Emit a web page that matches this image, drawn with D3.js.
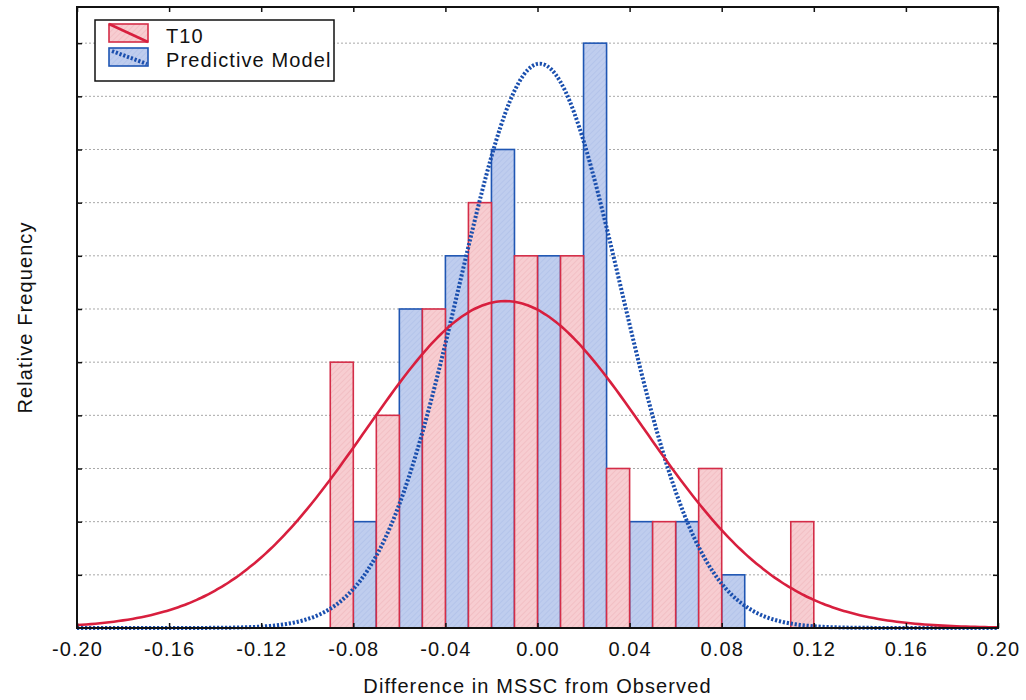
<!DOCTYPE html>
<html>
<head>
<meta charset="utf-8">
<script src="https://cdn.jsdelivr.net/npm/d3@7"></script>
<style>
  body { margin: 0; background: #fff; }
  text { font-family: "Liberation Sans", Arial, Helvetica, sans-serif; fill: #111; letter-spacing: 1.1px; }
</style>
</head>
<body>
<svg id="chart" width="1026" height="700"></svg>
<script>
// bin starts (left edge) and counts for each histogram, bins are 0.01 wide
var t10Starts = [-0.09, -0.07, -0.05, -0.03, -0.01, 0.01, 0.03, 0.05, 0.07, 0.09, 0.11];
var t10Counts = [5, 4, 6, 8, 7, 7, 3, 2, 3, 0, 2];
var modelStarts = [-0.08, -0.06, -0.04, -0.02, 0.00, 0.02, 0.04, 0.06, 0.08];
var modelCounts = [2, 6, 7, 9, 7, 11, 2, 2, 1];

// fitted normal curves: mean, sd, peak height (in count units)
var t10Fit = [-0.014, 0.0605, 6.15];
var modelFit = [0.001, 0.035, 10.62];

var xTicks = [-0.20, -0.16, -0.12, -0.08, -0.04, 0.00, 0.04, 0.08, 0.12, 0.16, 0.20];
var yGrid = [1, 2, 3, 4, 5, 6, 7, 8, 9, 10, 11];

var binWidth = 0.01;

var margin = {top: 7, right: 28, bottom: 72, left: 77},
    width = 1026 - margin.left - margin.right,
    height = 700 - margin.top - margin.bottom;

var svg = d3.select('#chart');

var defs = svg.append('defs');
function hatch(id, base, line) {
    var p = defs.append('pattern')
        .attr('id', id)
        .attr('patternUnits', 'userSpaceOnUse')
        .attr('width', 4).attr('height', 4)
        .attr('patternTransform', 'rotate(45)');
    p.append('rect').attr('width', 4).attr('height', 4).attr('fill', base);
    p.append('line').attr('x1', 0).attr('y1', 0).attr('x2', 0).attr('y2', 4)
        .attr('stroke', line).attr('stroke-width', 1.2);
}
hatch('pinkHatch', '#f7cdd1', '#f0b6bc');
hatch('blueHatch', '#bfcdee', '#adbfe8');

var g = svg.append('g')
    .attr('transform', 'translate(' + margin.left + ',' + margin.top + ')');

var xScale = d3.scaleLinear().domain([-0.2, 0.2]).range([0, width]);
var yScale = d3.scaleLinear().domain([0, 11.68]).range([height, 0]);

// dotted gridlines
g.append('g').selectAll('line')
    .data(yGrid)
    .enter().append('line')
    .attr('x1', 0)
    .attr('x2', width)
    .attr('y1', function(d) { return yScale(d); })
    .attr('y2', function(d) { return yScale(d); })
    .attr('stroke', '#a8a8a8')
    .attr('stroke-width', 1)
    .attr('stroke-dasharray', '2,2');

// bars
var t10Data = t10Starts.map(function(s, i) { return {x: s, n: t10Counts[i]}; });
var modelData = modelStarts.map(function(s, i) { return {x: s, n: modelCounts[i]}; });

function drawBars(data, fill, stroke) {
    g.append('g').selectAll('rect')
        .data(data)
        .enter().append('rect')
        .attr('x', function(d) { return xScale(d.x); })
        .attr('width', function(d) { return xScale(d.x + binWidth) - xScale(d.x); })
        .attr('y', function(d) { return yScale(d.n); })
        .attr('height', function(d) { return yScale(0) - yScale(d.n); })
        .attr('fill', fill)
        .attr('stroke', stroke)
        .attr('stroke-width', 1.6);
}
drawBars(modelData, 'url(#blueHatch)', '#1f56b3');
drawBars(t10Data, 'url(#pinkHatch)', '#d42d48');

// normal curves
var curveX = d3.range(-0.2, 0.2001, 0.002);
function normal(fit) {
    return function(v) {
        var z = (v - fit[0]) / fit[1];
        return fit[2] * Math.exp(-0.5 * z * z);
    };
}
var line = d3.line()
    .x(function(d) { return xScale(d[0]); })
    .y(function(d) { return yScale(d[1]); })
    .curve(d3.curveBasis);

var modelPdf = normal(modelFit);
g.append('path')
    .datum(curveX.map(function(v) { return [v, modelPdf(v)]; }))
    .attr('d', line)
    .attr('fill', 'none')
    .attr('stroke', '#1a4fae')
    .attr('stroke-width', 4)
    .attr('stroke-dasharray', '2.2,1.8');

var t10Pdf = normal(t10Fit);
g.append('path')
    .datum(curveX.map(function(v) { return [v, t10Pdf(v)]; }))
    .attr('d', line)
    .attr('fill', 'none')
    .attr('stroke', '#d81f3e')
    .attr('stroke-width', 2.6);

// frame
g.append('rect')
    .attr('width', width)
    .attr('height', height)
    .attr('fill', 'none')
    .attr('stroke', '#111')
    .attr('stroke-width', 2);

// x axis with inward ticks
var fmt = d3.format('.2f');
var xAxis = d3.axisBottom(xScale)
    .tickValues(xTicks)
    .tickSize(-5)
    .tickPadding(14)
    .tickFormat(function(d) { return fmt(d).replace('\u2212', '-'); });
var xAxisGroup = g.append('g')
    .attr('transform', 'translate(0,' + height + ')')
    .call(xAxis);
xAxisGroup.select('.domain').remove();
xAxisGroup.selectAll('line').attr('stroke', '#111').attr('stroke-width', 1.5);
xAxisGroup.selectAll('text')
    .style('font-size', '20px')
    .style('font-family', '"Liberation Sans", Arial, sans-serif')
    .attr('fill', '#111');

var xTop = d3.axisTop(xScale).tickValues(xTicks).tickSize(-5).tickFormat('');
var xTopGroup = g.append('g').call(xTop);
xTopGroup.select('.domain').remove();
xTopGroup.selectAll('line').attr('stroke', '#111').attr('stroke-width', 1.5);

// y ticks, inside, no labels
var yLeft = d3.axisLeft(yScale).tickValues(yGrid).tickSize(-5).tickFormat('');
var yLeftGroup = g.append('g').call(yLeft);
yLeftGroup.select('.domain').remove();
yLeftGroup.selectAll('line').attr('stroke', '#111').attr('stroke-width', 1.5);

var yRight = d3.axisRight(yScale).tickValues(yGrid).tickSize(-5).tickFormat('');
var yRightGroup = g.append('g').attr('transform', 'translate(' + width + ',0)').call(yRight);
yRightGroup.select('.domain').remove();
yRightGroup.selectAll('line').attr('stroke', '#111').attr('stroke-width', 1.5);

// axis titles
svg.append('text')
    .attr('x', margin.left + width / 2)
    .attr('y', 693)
    .attr('text-anchor', 'middle')
    .style('font-size', '20px')
    .text('Difference in MSSC from Observed');

svg.append('text')
    .attr('transform', 'translate(32,' + (margin.top + height / 2) + ') rotate(-90)')
    .attr('text-anchor', 'middle')
    .style('font-size', '20px')
    .text('Relative Frequency');

// legend
var legend = svg.append('g');
legend.append('rect')
    .attr('x', 95).attr('y', 20)
    .attr('width', 239).attr('height', 61)
    .attr('fill', '#fff')
    .attr('stroke', '#111')
    .attr('stroke-width', 1.5);

legend.append('rect')
    .attr('x', 109).attr('y', 24).attr('width', 39).attr('height', 18)
    .attr('fill', 'url(#pinkHatch)').attr('stroke', '#d42d48').attr('stroke-width', 1.6);
legend.append('line')
    .attr('x1', 109).attr('y1', 24).attr('x2', 148).attr('y2', 42)
    .attr('stroke', '#d81f3e').attr('stroke-width', 2.6);

legend.append('rect')
    .attr('x', 109).attr('y', 48).attr('width', 39).attr('height', 18)
    .attr('fill', 'url(#blueHatch)').attr('stroke', '#1f56b3').attr('stroke-width', 1.6);
legend.append('line')
    .attr('x1', 112).attr('y1', 51).attr('x2', 147).attr('y2', 64)
    .attr('stroke', '#1a4fae').attr('stroke-width', 4).attr('stroke-dasharray', '2.2,1.8');

legend.append('text').attr('x', 166).attr('y', 43).style('font-size', '20px').text('T10');
legend.append('text').attr('x', 166).attr('y', 67).style('font-size', '20px').text('Predictive Model');
</script>
</body>
</html>
